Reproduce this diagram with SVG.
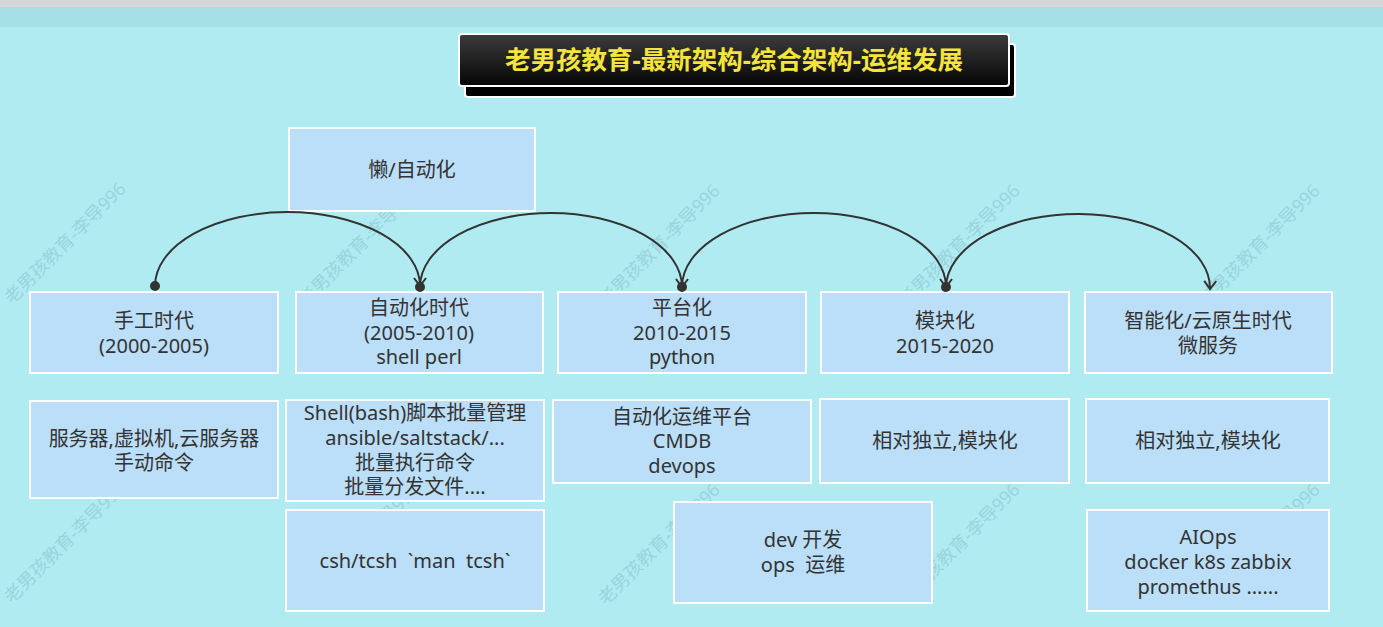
<svg xmlns="http://www.w3.org/2000/svg" width="1383" height="627" viewBox="0 0 1383 627">
<defs>
<linearGradient id="tg" x1="0" y1="0" x2="0" y2="1">
<stop offset="0" stop-color="#3c3c3c"/>
<stop offset="1" stop-color="#050505"/>
</linearGradient>
<marker id="arr" markerWidth="18" markerHeight="18" refX="9" refY="9" orient="auto" markerUnits="userSpaceOnUse">
<path d="M1,3 L9,9 L1,15" fill="none" stroke="#333" stroke-width="2"/>
</marker>
<marker id="dot" markerWidth="12" markerHeight="12" refX="6" refY="6" orient="auto" markerUnits="userSpaceOnUse">
<circle cx="6" cy="6" r="5" fill="#333"/>
</marker>
</defs>
<style>
.nb{fill:#bbdef9;stroke:#fff;stroke-width:2}
.t{font-family:"Noto Sans","Noto Sans CJK SC",sans-serif;font-size:20px;fill:#333;text-anchor:middle}
.wm{font-family:"Noto Sans","Noto Sans CJK SC",sans-serif;font-size:18px;fill:#96cfd8;opacity:0.8}
.c{fill:none;stroke:#333;stroke-width:2}
</style>
<rect x="0" y="0" width="1383" height="627" fill="#b0ebf2"/>
<rect x="0" y="0" width="1383" height="7" fill="#d6d7db"/>
<rect x="0" y="7" width="1383" height="20" fill="#a7dfe7"/>
<g id="watermarks">
<text class="wm" transform="translate(12,305) rotate(-45)">老男孩教育-李导996</text>
<text class="wm" transform="translate(306,307) rotate(-45)">老男孩教育-李导996</text>
<text class="wm" transform="translate(606,307) rotate(-45)">老男孩教育-李导996</text>
<text class="wm" transform="translate(906,307) rotate(-45)">老男孩教育-李导996</text>
<text class="wm" transform="translate(1206,307) rotate(-45)">老男孩教育-李导996</text>
<text class="wm" transform="translate(12,604) rotate(-45)">老男孩教育-李导996</text>
<text class="wm" transform="translate(306,606) rotate(-45)">老男孩教育-李导996</text>
<text class="wm" transform="translate(606,606) rotate(-45)">老男孩教育-李导996</text>
<text class="wm" transform="translate(906,606) rotate(-45)">老男孩教育-李导996</text>
<text class="wm" transform="translate(1206,606) rotate(-45)">老男孩教育-李导996</text>
</g>
<g id="title">
<rect x="465" y="44" width="550" height="53" rx="3" fill="#000" stroke="#fff" stroke-width="2"/>
<rect x="459" y="34" width="550" height="52" rx="3" fill="url(#tg)" stroke="#fff" stroke-width="2"/>
<text x="734" y="69" text-anchor="middle" font-family="Noto Sans,Noto Sans CJK SC,sans-serif" font-size="25.5" font-weight="bold" fill="#f5e43c">老男孩教育-最新架构-综合架构-运维发展</text>
</g>
<g id="n-lazy"><rect class="nb" x="289" y="128" width="246" height="83"/><text class="t" x="412" y="177">懒/自动化</text></g>
<g id="n-manual"><rect class="nb" x="30" y="292" width="248" height="81"/><text class="t" x="154" y="328">手工时代</text><text class="t" x="154" y="353">(2000-2005)</text></g>
<g id="n-auto"><rect class="nb" x="296" y="292" width="247" height="81"/><text class="t" x="419" y="315">自动化时代</text><text class="t" x="419" y="340">(2005-2010)</text><text class="t" x="419" y="364">shell perl</text></g>
<g id="n-platform"><rect class="nb" x="558" y="292" width="248" height="81"/><text class="t" x="682" y="315">平台化</text><text class="t" x="682" y="340">2010-2015</text><text class="t" x="682" y="364">python</text></g>
<g id="n-module"><rect class="nb" x="821" y="292" width="248" height="81"/><text class="t" x="945" y="328">模块化</text><text class="t" x="945" y="353">2015-2020</text></g>
<g id="n-cloud"><rect class="nb" x="1085" y="292" width="247" height="81"/><text class="t" x="1208" y="328">智能化/云原生时代</text><text class="t" x="1208" y="353">微服务</text></g>
<g id="n-server"><rect class="nb" x="30" y="401" width="248" height="97"/><text class="t" x="154" y="446">服务器,虚拟机,云服务器</text><text class="t" x="154" y="470">手动命令</text></g>
<g id="n-shell"><rect class="nb" x="286" y="400" width="258" height="101"/><text class="t" x="415" y="420">Shell(bash)脚本批量管理</text><text class="t" x="415" y="445">ansible/saltstack/...</text><text class="t" x="415" y="470">批量执行命令</text><text class="t" x="415" y="494">批量分发文件....</text></g>
<g id="n-opsplat"><rect class="nb" x="553" y="400" width="258" height="83"/><text class="t" x="682" y="424">自动化运维平台</text><text class="t" x="682" y="448">CMDB</text><text class="t" x="682" y="473">devops</text></g>
<g id="n-indep1"><rect class="nb" x="820" y="399" width="249" height="84"/><text class="t" x="945" y="448">相对独立,模块化</text></g>
<g id="n-indep2"><rect class="nb" x="1086" y="399" width="243" height="84"/><text class="t" x="1208" y="448">相对独立,模块化</text></g>
<g id="n-csh"><rect class="nb" x="286" y="510" width="258" height="101"/><text class="t" x="415" y="568" xml:space="preserve">csh/tcsh  `man  tcsh`</text></g>
<g id="n-devops"><rect class="nb" x="674" y="502" width="258" height="101"/><text class="t" x="803" y="547">dev 开发</text><text class="t" x="803" y="572" xml:space="preserve">ops  运维</text></g>
<g id="n-aiops"><rect class="nb" x="1087" y="510" width="242" height="101"/><text class="t" x="1208" y="544">AIOps</text><text class="t" x="1208" y="569">docker k8s zabbix</text><text class="t" x="1208" y="594">promethus ......</text></g>
<g id="connectors">
<path class="c" d="M155,286 A132.5,74 0 0 1 420,286" marker-start="url(#dot)" marker-end="url(#arr)"/>
<path class="c" d="M420,287 A131,74 0 0 1 682,287" marker-start="url(#dot)" marker-end="url(#arr)"/>
<path class="c" d="M682,287 A132,74 0 0 1 946,287" marker-start="url(#dot)" marker-end="url(#arr)"/>
<path class="c" d="M946,287 A132,74 0 0 1 1210,289" marker-start="url(#dot)" marker-end="url(#arr)"/>
</g>
</svg>
